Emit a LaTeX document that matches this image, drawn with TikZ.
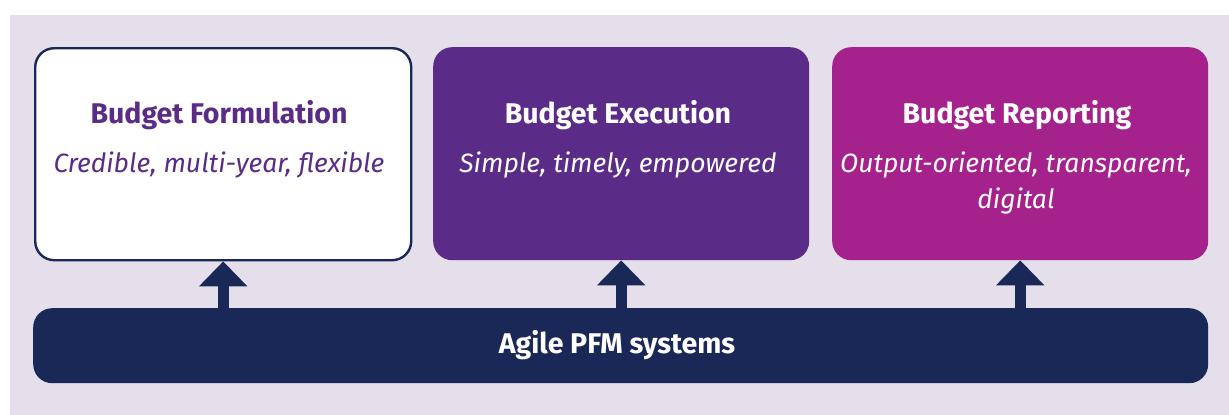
\documentclass[tikz,border=0pt]{standalone}
\usepackage{fontspec}
\setmainfont{Fira Sans}
\usetikzlibrary{arrows.meta}
\definecolor{bgc}{HTML}{E4DFEB}
\definecolor{navy}{HTML}{1A2857}
\definecolor{purp}{HTML}{5B2C87}
\definecolor{mag}{HTML}{A5218C}
\begin{document}
\begin{tikzpicture}[x=1pt,y=-1pt,
  box/.style={rounded corners=19pt, minimum width=376pt, minimum height=213pt, inner sep=0pt, anchor=north west},
  ttl/.style={font=\fontsize{28.5}{32}\selectfont\bfseries, anchor=base},
  sub/.style={font=\fontsize{26.5}{36}\selectfont\itshape, anchor=base, align=center},
  up/.style={draw=navy, line width=11pt, -{Triangle[width=47pt,length=25pt]}}]
\useasboundingbox (0,0) rectangle (1229,415);
\fill[bgc] (10,15) rectangle (1229,415);
\node[box, draw=navy, line width=2.4pt, fill=white, minimum width=376pt, minimum height=212pt] (f) at (34,47) {};
\node[box, fill=purp] (e) at (433,47) {};
\node[box, fill=mag] (r) at (832,47) {};
\node[rounded corners=19pt, fill=navy, minimum width=1175pt, minimum height=75pt, inner sep=0pt, anchor=north west] (a) at (33,308) {};
\node[ttl, text=purp] (ft) at (219,123) {Budget Formulation};
\node[sub, text=purp] (fs) at (219,172) {Credible, multi-year, flexible};
\node[ttl, text=white] (et) at (618,123) {Budget Execution};
\node[sub, text=white] (es) at (618,172) {Simple, timely, empowered};
\node[ttl, text=white] (rt) at (1017,123) {Budget Reporting};
\node[sub, text=white] (rs) at (1016,208) {Output-oriented, transparent,\\digital};
\node[ttl, text=white] (at) at (617,353) {Agile PFM systems};
\draw[up] (a.north -| f.south) -- (f.south);
\draw[up] (a.north -| e.south) -- (e.south);
\draw[up] (a.north -| r.south) -- (r.south);
\end{tikzpicture}
\end{document}
